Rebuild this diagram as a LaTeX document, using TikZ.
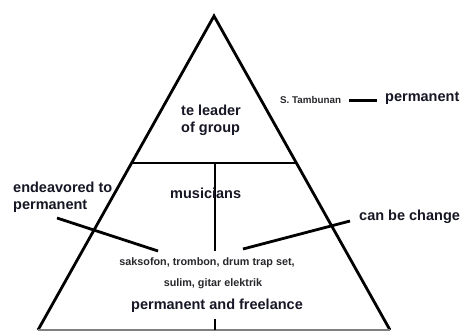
\documentclass[tikz,border=0pt]{standalone}
\usepackage{fontspec}
\setmainfont{Liberation Sans}
\begin{document}
\definecolor{ink}{RGB}{22,22,36}
\definecolor{softink}{RGB}{40,40,44}
\begin{tikzpicture}[x=1pt,y=-1pt,
  heavy/.style={line width=2.8pt,black},
  label/.style={inner sep=0pt,anchor=west,text=ink,font=\fontsize{14.5}{17}\selectfont\bfseries},
  small/.style={inner sep=0pt,text=softink,font=\fontsize{10.8}{12}\selectfont\bfseries}]
\useasboundingbox (0,0) rectangle (462,332);
\fill[white] (0,0) rectangle (462,332);

% pyramid outline and tiers
\coordinate (apex) at (214,16);
\coordinate (bl) at (38,330);
\coordinate (br) at (390,330);
\coordinate (ml) at (132.5,163);
\coordinate (mr) at (295.5,163);
\draw[heavy,line join=miter] (bl) -- (apex) -- (br);
\draw[gray,line width=2pt] (bl) -- (br);
\draw[heavy] (ml) -- (mr);
\coordinate (vtop) at (215,163);
\coordinate (vbot) at (215,251);
\draw[heavy] (vtop) -- (vbot);
\coordinate (stubtop) at (215,319);
\coordinate (stubbot) at (215,330);
\draw[heavy] (stubtop) -- (stubbot);

% labels
\node[label,align=left] (leader) at (181,120) {te leader\\of group};
\node[small,anchor=west,font=\fontsize{9.8}{11}\selectfont\bfseries] (tamb) at (280,100) {S. Tambunan};
\node[label] (perm1) at (385,98) {permanent};
\node[label,align=left] (endeav) at (13,197) {endeavored to\\permanent};
\node[label] (musicians) at (170,193) {musicians};
\node[label] (change) at (359,217) {can be change};
\node[small] (instr1) at (207,263) {saksofon, trombon, drum trap set,};
\node[small] (instr2) at (213,284) {sulim, gitar elektrik};
\node[label] (freel) at (131,306) {permanent and freelance};

% connectors
\coordinate (d1) at (349,100);
\coordinate (d2) at (377,100);
\draw[heavy,line width=3pt] (d1) -- (d2);
\coordinate (lcs) at (57,218);
\coordinate (lce) at (158,251);
\draw[heavy] (lcs) -- (lce);
\coordinate (rcs) at (243,249);
\coordinate (rce) at (350,221);
\draw[heavy] (rcs) -- (rce);
\end{tikzpicture}
\end{document}
